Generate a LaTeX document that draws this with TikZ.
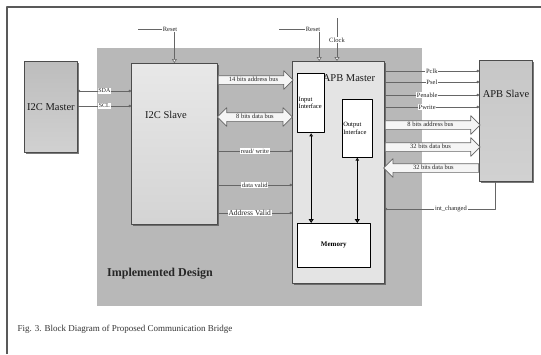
\documentclass[tikz,border=0pt]{standalone}
\usepackage{fontspec}
\setmainfont{Liberation Serif}
\usetikzlibrary{arrows.meta, positioning, calc, shapes.arrows, shadows}

\definecolor{regiongray}{HTML}{B8B8B8}
\definecolor{apbtop}{HTML}{E4E4E4}
\definecolor{apblow}{HTML}{D6D6D6}

\begin{document}
\begin{tikzpicture}[x=1pt, y=-1pt, line join=round,
    box/.style={draw=black!70, line width=0.8pt, anchor=north west, inner sep=0pt,
      text=black!90, font=\fontsize{10.5}{11}\selectfont,
      drop shadow={shadow xshift=1.2pt, shadow yshift=-1.2pt, fill=black!65, opacity=0.8}},
    inbox/.style={draw=black, fill=white, anchor=north west, inner sep=1pt,
      align=left, font=\fontsize{6.5}{7.5}\selectfont},
    sig/.style={draw=black!60, line width=0.6pt},
    dot/.style={sig, -{Circle[length=2.4pt]}},
    inp/.style={sig, -{Triangle[length=4pt, width=5pt, fill=white]}},
    link/.style={line width=1.2pt,
      {Triangle[length=3pt, width=3.5pt, fill=white]}-{Triangle[length=4pt, width=5pt, fill=white]}},
    tag/.style={fill=white, inner sep=0.8pt, text=black!85, font=\fontsize{6.5}{6.5}\selectfont},
    fat/.style={single arrow, draw=black!60, fill=black!4, line width=0.7pt,
      single arrow head extend=5pt, inner xsep=1pt, inner ysep=1pt,
      text height=4.6pt, text depth=1.4pt,
      text=black!85, font=\fontsize{6.5}{6.5}\selectfont, anchor=tail, minimum height=#1},
    fatboth/.style={double arrow, draw=black!60, fill=black!4, line width=0.7pt,
      double arrow head extend=5pt, inner xsep=1pt, inner ysep=1pt,
      text height=4.6pt, text depth=1.4pt,
      text=black!85, font=\fontsize{6.5}{6.5}\selectfont, minimum height=#1}]
  \useasboundingbox (0,0) rectangle (541,354);
  \fill[white] (0,0) rectangle (541,354);
  % Rahmen
  \draw[black!65, line width=1.2pt] (7,354) -- (7,7) -- (541,7);
  % Implemented Design
  \node[fill=regiongray, anchor=north west, minimum width=325pt, minimum height=258pt, inner sep=0pt] (design) at (97,48) {};
  \node[font=\bfseries\fontsize{12}{12}\selectfont, text=black!85] (impl) at (160,274) {Implemented Design};
  % Bloecke
  \node[box, minimum width=53pt, minimum height=91pt, top color=black!26, bottom color=black!18] (i2cm) at (24,61) {I2C Master};
  \node[box, minimum width=86pt, minimum height=161pt, top color=black!9, bottom color=black!17] (i2cs) at (131,63) {};
  \node[text=black!90, font=\fontsize{10.5}{11}\selectfont] at (166,115) {I2C Slave};
  \node[box, minimum width=92pt, minimum height=222pt, fill=apbtop,
    path picture={\fill[apblow] (path picture bounding box.south west) rectangle (path picture bounding box.north east |- 0,159);}] (apbm) at (292,61) {};
  \node[text=black!90, font=\fontsize{10.5}{11}\selectfont] at (349,78) {APB Master};
  \node[box, minimum width=53pt, minimum height=121pt, top color=black!22, bottom color=black!18] (apbs) at (479,60) {};
  \node[text=black!90, font=\fontsize{10.5}{11}\selectfont] at (506,94) {APB Slave};
  % innere Bloecke
  \node[inbox, line width=1.3pt, minimum width=27pt, minimum height=59pt, text width=25pt] (inif) at (297,73) {Input\\Interface};
  \node[inbox, line width=0.6pt, minimum width=30pt, minimum height=58pt, text width=28pt] (outif) at (342,99) {Output\\Interface};
  \node[inbox, line width=0.6pt, minimum width=73pt, minimum height=44pt, align=center,
    font=\bfseries\fontsize{7}{8}\selectfont] (mem) at (297,223) {Memory};
  \draw[link] (inif.south) -- (inif.south |- mem.north);
  \draw[link] (outif.south) -- (outif.south |- mem.north);
  % Reset und Clock
  \node[tag] (rst1) at (170,29) {Reset};
  \draw[sig] (rst1.west) -- (138,29);
  \draw[inp] (i2cs.north |- rst1.south) -- (i2cs.north);
  \node[tag] (rst2) at (313,29) {Reset};
  \draw[sig] (rst2.west) -- (279,29);
  \draw[inp] ([xshift=-2pt]rst2.south east) -- ([xshift=-2pt]rst2.south east |- apbm.north);
  \node[tag] (clk) at (337,40) {Clock};
  \draw[sig] (clk.north) -- ++(0,-19);
  \draw[inp] (clk.south) -- (clk.south |- apbm.north);
  % I2C Bus
  \draw[sig, {Circle[length=2.4pt]}-{Circle[length=2.4pt]}] (i2cm.east |- 0,91) -- node[tag, font=\fontsize{6}{6}\selectfont]{SDA} (i2cs.west |- 0,91);
  \draw[dot] (i2cm.east |- 0,106) -- node[tag, font=\fontsize{6}{6}\selectfont]{SCL} (i2cs.west |- 0,106);
  % Busse I2C Slave -> APB Master
  \node[fat=75pt] (abus) at (i2cs.east |- 0,80) {14 bits address bus};
  \node[fatboth=75pt] (dbus) at ($(i2cs.east |- 0,117)!0.5!(apbm.west |- 0,117)$) {8 bits data bus};
  \draw[dot] (i2cs.east |- 0,151) -- node[tag]{read/ write} (apbm.west |- 0,151);
  \draw[dot] (i2cs.east |- 0,185) -- node[tag]{data valid} (apbm.west |- 0,185);
  \draw[dot] (i2cs.east |- 0,213) -- node[tag, pos=0.43, font=\fontsize{7.5}{7.5}\selectfont]{Address Valid} (apbm.west |- 0,213);
  % APB Signale
  \draw[dot] (apbm.east |- 0,71) -- node[tag]{Pclk} (apbs.west |- 0,71);
  \draw[dot] (apbm.east |- 0,82) -- node[tag]{Psel} (apbs.west |- 0,82);
  \draw[dot] (apbm.east |- 0,95) -- node[tag, pos=0.45]{Penable} (apbs.west |- 0,95);
  \draw[dot] (apbm.east |- 0,107) -- node[tag, pos=0.45]{Pwrite} (apbs.west |- 0,107);
  \node[fat=95pt] (pabus) at (apbm.east |- 0,125) {8 bits address bus};
  \node[fat=95pt] (pwbus) at (apbm.east |- 0,147) {32 bits data bus};
  \node[fat=95pt, shape border rotate=180] (prbus) at (apbs.west |- 0,168) {32 bits data bus};
  \coordinate (ic) at (495,209);
  \draw[sig, {Circle[length=2.4pt]}-] (apbm.east |- ic) -- node[tag, pos=0.6]{int\_changed} (ic) -- (ic |- apbs.south);
  % Bildunterschrift
  \node[anchor=west, text=black!80, font=\fontsize{9}{9}\selectfont] (cap) at (14,329) {Fig. 3. Block Diagram of Proposed Communication Bridge};
\end{tikzpicture}
\end{document}
